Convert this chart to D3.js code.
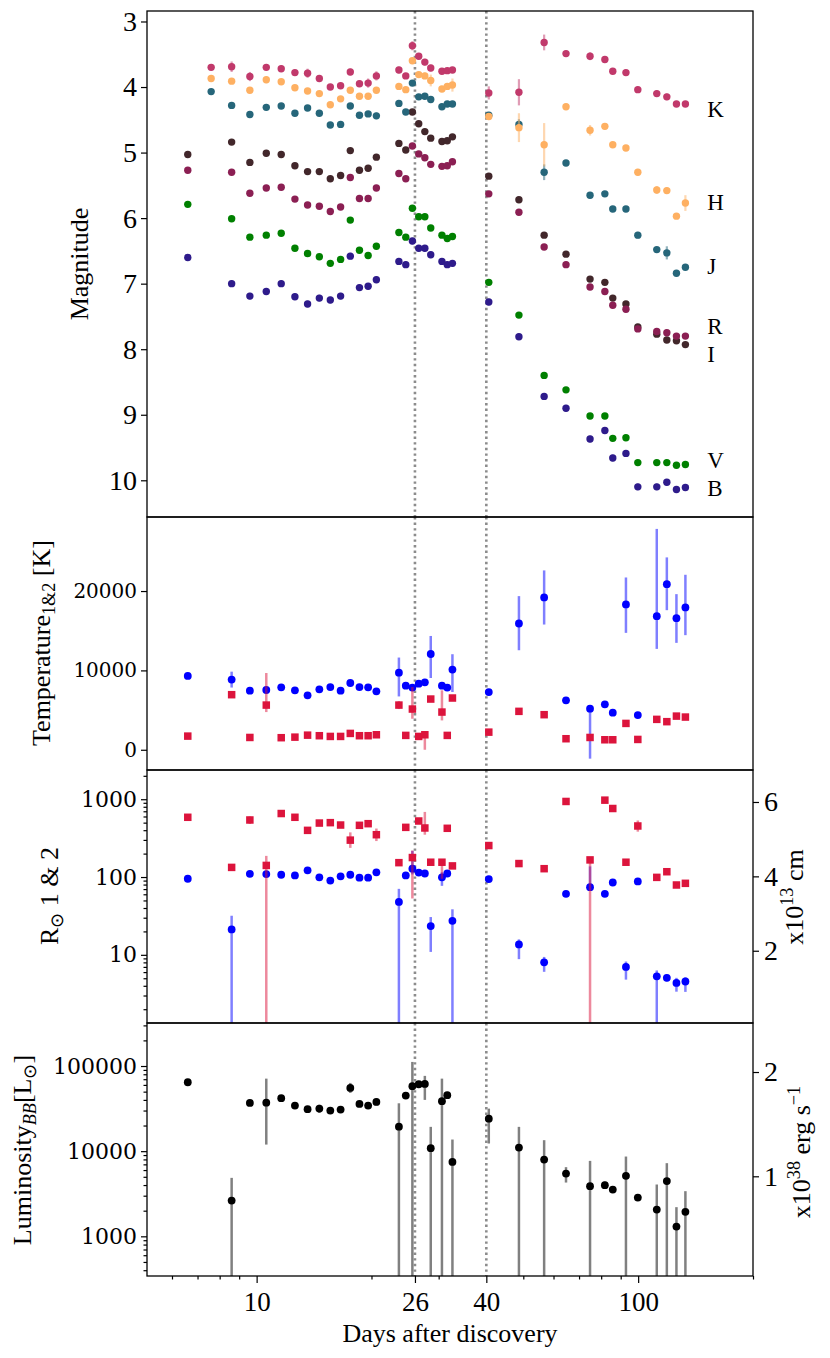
<!DOCTYPE html>
<html><head><meta charset="utf-8">
<script src="https://cdn.jsdelivr.net/npm/d3@7"></script>
<style>body{margin:0;background:#fff}</style>
</head><body>
<svg id="c" width="830" height="1358" xmlns="http://www.w3.org/2000/svg"></svg>
<script>
// ---------------- DATA ----------------
const days = [6.6, 7.6, 8.6, 9.6, 10.6, 11.6, 12.6, 13.6, 14.6, 15.6, 16.6, 17.6, 18.6, 19.6, 20.6, 23.6, 24.6, 25.6, 26.6, 27.6, 28.6, 30.6, 31.6, 32.6, 40.6, 48.7, 56.7, 64.7, 74.8, 81.8, 85.8, 92.9, 99.8, 111.9, 118.9, 126.0, 133.0];

const magK = [null, 3.70, 3.69, 3.84, 3.70, 3.72, 3.78, 3.79, 3.87, 4.00, 3.98, 3.77, 3.95, 3.94, 3.83, 3.74, 3.83, 3.37, 3.53, 3.62, 3.71, 3.76, 3.75, 3.74, 4.09, 4.08, 3.32, 3.49, 3.53, 3.58, 3.76, 3.78, 4.04, 4.10, 4.15, 4.26, 4.26];
const magH = [null, 3.87, 3.91, 4.05, 3.89, 3.92, 4.01, 4.06, 4.10, 4.27, 4.18, 4.05, 4.14, 4.14, 4.05, 3.99, 4.04, 3.60, 3.81, 3.83, 3.90, 4.03, 3.99, 3.97, 4.45, 4.62, 4.88, 4.30, 4.66, 4.60, 4.88, 4.93, 5.30, 5.57, 5.58, 5.97, 5.77];
const magJ = [null, 4.07, 4.28, 4.42, 4.31, 4.29, 4.40, 4.32, 4.40, 4.58, 4.57, 4.29, 4.43, 4.41, 4.44, 4.25, 4.38, 3.94, 4.15, 4.14, 4.19, 4.30, 4.26, 4.26, 4.43, 4.57, 5.30, 5.16, 5.65, 5.63, 5.86, 5.86, 6.26, 6.48, 6.53, 6.84, 6.75];
const magR = [5.27, null, 5.30, 5.62, 5.54, 5.53, 5.71, 5.80, 5.82, 5.90, 5.83, 5.38, 5.70, 5.70, 5.54, 5.32, 5.40, 4.90, 5.02, 5.08, 5.18, 5.21, 5.20, 5.14, 5.63, 5.91, 6.44, 6.71, 7.05, 7.12, 7.33, 7.39, 7.69, 7.73, 7.75, 7.80, 7.80];
const magI = [5.03, null, 4.84, 5.15, 5.01, 5.03, 5.20, 5.29, 5.29, 5.40, 5.35, 4.97, 5.27, 5.24, 5.07, 4.86, 4.96, 4.38, 4.56, 4.68, 4.78, 4.83, 4.82, 4.76, 5.36, 5.72, 6.26, 6.55, 6.93, 6.98, 7.22, 7.31, 7.66, 7.77, 7.86, 7.87, 7.93];
const magV = [5.79, null, 6.01, 6.29, 6.26, 6.23, 6.46, 6.54, 6.59, 6.69, 6.63, 6.03, 6.49, 6.57, 6.43, 6.22, 6.29, 5.85, 5.98, 5.98, 6.15, 6.26, 6.31, 6.28, 6.98, 7.48, 8.40, 8.62, 9.02, 9.02, 9.36, 9.35, 9.73, 9.73, 9.73, 9.77, 9.76];
const magB = [6.60, null, 7.00, 7.19, 7.12, 7.00, 7.20, 7.31, 7.22, 7.25, 7.19, 6.58, 7.06, 7.04, 6.94, 6.66, 6.71, 6.35, 6.46, 6.46, 6.56, 6.66, 6.71, 6.69, 7.28, 7.81, 8.72, 8.90, 9.37, 9.24, 9.66, 9.59, 10.10, 10.10, 10.03, 10.14, 10.11];

const errK = [null, .04, .08, .07, .04, .05, .04, .07, .05, .04, .04, .05, .05, .07, .07, .05, .04, .07, .04, .05, .05, .04, .04, .04, .10, .20, .12, .04, .06, .04, .04, .04, .04, .05, .05, .04, .04];
const errH = [null, .03, .03, .03, .05, .04, .03, .03, .04, .03, .03, .03, .03, .03, .04, .04, .03, .03, .04, .05, .09, .04, .04, .10, .04, .22, .33, .04, .08, .05, .04, .04, .05, .06, .05, .04, .12];
const errJ = [null, .03, .03, .03, .03, .03, .03, .03, .03, .03, .03, .03, .03, .04, .05, .04, .03, .03, .03, .03, .04, .04, .04, .04, .05, .08, .12, .04, .04, .04, .04, .04, .05, .04, .10, .04, .04];
const errR = [.03, null, .03, .03, .03, .03, .03, .03, .03, .03, .03, .03, .03, .03, .03, .03, .03, .03, .03, .03, .03, .03, .03, .03, .03, .03, .03, .03, .03, .03, .03, .03, .03, .03, .03, .03, .03];
const errI = [.03, null, .03, .03, .03, .03, .03, .03, .03, .03, .03, .03, .03, .03, .03, .03, .03, .03, .03, .03, .03, .03, .03, .03, .03, .03, .03, .03, .03, .03, .03, .03, .03, .03, .03, .03, .03];
const errV = [.03, null, .03, .03, .03, .03, .03, .03, .03, .03, .03, .03, .03, .03, .03, .03, .03, .03, .03, .03, .03, .03, .03, .03, .03, .03, .03, .03, .03, .03, .03, .03, .03, .03, .03, .03, .03];
const errB = [.05, null, .05, .05, .05, .05, .05, .05, .05, .05, .05, .05, .05, .05, .05, .05, .05, .05, .05, .05, .05, .05, .05, .05, .05, .05, .05, .05, .05, .05, .05, .05, .05, .05, .05, .05, .05];

const bandNames = ['K', 'H', 'J', 'R', 'I', 'V', 'B'];
const bandLabelMag = [4.46, 5.88, 6.86, 7.77, 8.19, 9.82, 10.24];
const bandLabelDay = 151.7;

// Temperatures [K]
const temp1 = [9300, null, 8840, 7450, 7530, 7870, 7490, 6860, 7610, 7900, 7450, 8410, 7900, 7870, 7360, 9720, 8080, 7830, 8330, 8500, 12070, 8080, 7830, 10100, 7270, 15910, 19190, 6230, 5180, 5720, 4670, 18310, 4370, 16830, 20870, 16580, 17930];
const temp1Err = [[300,300], null, [1000,1000], [250,250], [250,250], [250,250], [250,250], [250,250], [250,250], [250,250], [250,250], [250,250], [250,250], [250,250], [250,250], [3000,1900], [300,300], [400,400], [250,250], [250,250], [3030,2270], [300,300], [250,250], [2820,1940], [300,300], [3370,3450], [3410,3410], [300,300], [6300,300], [300,300], [300,300], [3580,3400], [300,300], [4120,11000], [3280,3370], [3110,3030], [3490,4120]];
const temp2 = [1720, null, 6940, 1550, 5630, 1520, 1590, 1840, 1770, 1680, 1680, 2060, 1770, 1770, 1890, 5630, 1810, 5130, 1680, 1890, 6390, 4750, 1810, 6520, 2220, 4840, 4420, 1390, 1550, 1260, 1260, 3320, 1300, 3830, 3540, 4240, 4120];
const temp2Err = [[200,200], null, [300,300], [200,200], [880,4040], [200,200], [200,200], [200,200], [200,200], [200,200], [200,200], [200,200], [200,200], [200,200], [200,200], [500,500], [200,200], [1220,2780], [200,200], [1890,200], [200,200], [1050,2740], [200,200], [200,200], [300,300], [200,200], [200,200], [200,200], [200,200], [200,200], [200,200], [200,200], [200,200], [200,200], [200,200], [200,200], [200,200]];

// Radii [R_sun]
const rad1 = [586, null, 133, 541, 141, 655, 586, 398, 494, 500, 466, 298, 462, 485, 350, 153, 435, 178, 525, 427, 155, 155, 423, 139, 254, 149, 128, 936, 166, 973, 760, 155, 453, 99, 117, 79, 83];
const rad1Err = [[30,30], null, [10,10], [60,60], [140,46], [30,30], [30,30], [20,20], [25,25], [25,25], [25,25], [61,77], [30,30], [25,25], [60,70], [10,10], [30,30], [125,41], [30,30], [77,260], [10,10], [60,10], [40,40], [10,10], [25,25], [8,8], [8,8], [30,30], [165,10], [30,30], [30,30], [8,8], [70,80], [6,6], [6,6], [5,5], [5,5]];
const rad2 = [95, null, 21.2, 110, 109, 107, 105, 122, 99, 90, 102, 107, 98, 98, 115, 47.9, 105, 128, 114, 111, 23.4, 99, 111, 27.4, 94, 13.6, 8.0, 60.8, 74, 60.8, 85, 7.0, 87.7, 5.3, 5.07, 4.36, 4.54];
const rad2Err = [[5,5], null, [21,10.6], [5,5], [5,5], [5,5], [5,5], [5,5], [5,5], [5,5], [5,5], [5,5], [5,5], [5,5], [5,5], [47,22.6], [5,5], [20,89], [5,5], [5,5], [12.5,7.2], [22,16], [5,5], [27,11.1], [4,4], [4.8,2.2], [1.95,1.4], [3,3], [5,63], [3,3], [4,4], [2.2,1.2], [4,4], [5.3,1.0], [0.5,0.5], [1.0,0.7], [1.2,0.6]];

// Luminosity [L_sun]
const lum = [64500, null, 2630, 36900, 37100, 41900, 34300, 31100, 31600, 30000, 30800, 55300, 35900, 34300, 37900, 19400, 45000, 57900, 61100, 61600, 10840, 38600, 45400, 7480, 24100, 11030, 7960, 5450, 3880, 3990, 3540, 5130, 2850, 2060, 4450, 1300, 1940];
const lumErr = [[5000,5000], null, [2630,2230], [3000,3000], [25150,34000], [3000,3000], [2500,2500], [2500,2500], [3500,3500], [2500,2500], [2500,2500], [7000,8000], [3000,3000], [2500,2500], [3500,3500], [19400,17100], [4000,4000], [57900,53800], [3000,3000], [21600,15000], [10840,8460], [38600,32500], [4000,4000], [7480,6220], [11800,7500], [11030,8270], [7960,5500], [1170,1040], [3880,3810], [400,400], [300,300], [5130,3520], [250,250], [2060,2000], [4450,2780], [1300,900], [1940,1450]];

const xMajor = [10, 26, 40, 100];
const xMinor = [6, 7, 8, 9, 20, 30, 50, 60, 70, 80, 90, 200];
const markLines = [26, 40];
const magTicks = [3, 4, 5, 6, 7, 8, 9, 10];
const tempTicks = [0, 10000, 20000];
const radTicks = [10, 100, 1000];
const radRightTicks = [2, 4, 6];
const lumTicks = [1000, 10000, 100000];
const lumRightTicks = [1, 2];

// ---------------- LAYOUT ----------------
const L = 147, R = 753;
const P = [{t: 11, b: 517}, {t: 517, b: 770}, {t: 770, b: 1023}, {t: 1023, b: 1276}];
const SERIF = "'Liberation Serif','Times New Roman',serif";
const DJS = "'DejaVu Serif',serif";

const svg = d3.select('#c');
const x = d3.scaleLog().domain([5.16, 200]).range([L, R]);
const y1 = d3.scaleLinear().domain([2.84, 10.56]).range([P[0].t, P[0].b]);
const y2 = d3.scaleLinear().domain([-2550, 29330]).range([P[1].b, P[1].t]);
const y3 = d3.scaleLog().domain([1.33, 2375]).range([P[2].b, P[2].t]);
const y3r = d3.scaleLinear().domain([0.057, 6.86]).range([P[2].b, P[2].t]);
const y4 = d3.scaleLog().domain([342, 320000]).range([P[3].b, P[3].t]);
const y4r = d3.scaleLinear().domain([0.044, 2.47]).range([P[3].b, P[3].t]);

const defs = svg.append('defs');
P.forEach((p, i) => {
  defs.append('clipPath').attr('id', 'clip' + i).append('rect')
    .attr('x', L).attr('y', p.t).attr('width', R - L).attr('height', p.b - p.t);
});

// dotted reference lines
P.forEach((p, i) => {
  svg.append('g').attr('clip-path', `url(#clip${i})`).selectAll('line').data(markLines).join('line')
    .attr('x1', d => x(d)).attr('x2', d => x(d)).attr('y1', p.t).attr('y2', p.b)
    .attr('stroke', '#8c8c8c').attr('stroke-width', 2.6).attr('stroke-dasharray', '2.4,3.2');
});

function rows(vals, errs) {
  return days.map((d, i) => ({d, v: vals[i], e: errs[i]})).filter(o => o.v != null);
}
function yEnd(scale, v, isLog, bottom) {
  if (isLog && v <= scale.domain()[0]) return bottom + 5;
  return scale(v);
}

// ---------- Panel 1: magnitudes ----------
const bands = [
  {vals: magB, err: errB, color: '#2e1b8b'},
  {vals: magV, err: errV, color: '#008000'},
  {vals: magI, err: errI, color: '#42272b'},
  {vals: magR, err: errR, color: '#8b1f53'},
  {vals: magJ, err: errJ, color: '#26667a'},
  {vals: magH, err: errH, color: '#feb062'},
  {vals: magK, err: errK, color: '#c1396b'}
];
const g1 = svg.append('g').attr('clip-path', 'url(#clip0)');
bands.forEach(b => {
  const data = rows(b.vals, b.err);
  const g = g1.append('g');
  g.selectAll('line').data(data).join('line')
    .attr('x1', o => x(o.d)).attr('x2', o => x(o.d))
    .attr('y1', o => y1(o.v - o.e)).attr('y2', o => y1(o.v + o.e))
    .attr('stroke', b.color).attr('stroke-opacity', 0.5).attr('stroke-width', 2.2);
  g.selectAll('circle').data(data).join('circle')
    .attr('cx', o => x(o.d)).attr('cy', o => y1(o.v)).attr('r', 3.7).attr('fill', b.color);
});
svg.append('g').selectAll('text').data(bandNames).join('text')
  .attr('x', x(bandLabelDay)).attr('y', (d, i) => y1(bandLabelMag[i]))
  .attr('font-family', SERIF).attr('font-size', 23).attr('fill', '#000').text(d => d);

// ---------- generic two-series panel ----------
function errSeries(g, data, scale, isLog, bottom, color, op, w) {
  g.append('g').selectAll('line').data(data).join('line')
    .attr('x1', o => x(o.d)).attr('x2', o => x(o.d))
    .attr('y1', o => yEnd(scale, o.v - o.e[0], isLog, bottom))
    .attr('y2', o => scale(o.v + o.e[1]))
    .attr('stroke', color).attr('stroke-opacity', op).attr('stroke-width', w);
}
function circles(g, data, scale, color, r) {
  g.append('g').selectAll('circle').data(data).join('circle')
    .attr('cx', o => x(o.d)).attr('cy', o => scale(o.v)).attr('r', r).attr('fill', color);
}
function squares(g, data, scale, color, s) {
  g.append('g').selectAll('rect').data(data).join('rect')
    .attr('x', o => x(o.d) - s / 2).attr('y', o => scale(o.v) - s / 2)
    .attr('width', s).attr('height', s).attr('fill', color);
}

// Panel 2
const g2 = svg.append('g').attr('clip-path', 'url(#clip1)');
const t1 = rows(temp1, temp1Err), t2 = rows(temp2, temp2Err);
errSeries(g2, t1, y2, false, P[1].b, '#0000ff', 0.5, 2.5);
circles(g2, t1, y2, '#0000ff', 3.9);
errSeries(g2, t2, y2, false, P[1].b, '#dc143c', 0.5, 2.5);
squares(g2, t2, y2, '#dc143c', 7.5);

// Panel 3
const g3 = svg.append('g').attr('clip-path', 'url(#clip2)');
const r1 = rows(rad1, rad1Err), r2 = rows(rad2, rad2Err);
errSeries(g3, r2, y3, true, P[2].b, '#0000ff', 0.5, 2.5);
circles(g3, r2, y3, '#0000ff', 3.9);
errSeries(g3, r1, y3, true, P[2].b, '#dc143c', 0.5, 2.5);
squares(g3, r1, y3, '#dc143c', 7.5);

// Panel 4
const g4 = svg.append('g').attr('clip-path', 'url(#clip3)');
const lr = rows(lum, lumErr);
errSeries(g4, lr, y4, true, P[3].b, '#808080', 1, 2.5);
circles(g4, lr, y4, '#000000', 3.9);

// ---------------- AXES ----------------
function styleAxis(g, font, size) {
  g.select('.domain').remove();
  g.attr('font-family', font).attr('font-size', size);
  g.selectAll('text').attr('fill', '#000');
  g.selectAll('line').attr('stroke', '#000').attr('stroke-width', 1.2);
}
function minorLog(scale) {
  const [a, b] = scale.domain(); const out = [];
  for (let e = Math.floor(Math.log10(a)); e <= Math.ceil(Math.log10(b)); e++)
    for (let k = 2; k <= 9; k++) { const v = k * Math.pow(10, e); if (v >= a && v <= b) out.push(v); }
  return out;
}
function leftAxis(scale, ticks, font, size, minor) {
  const g = svg.append('g').attr('transform', `translate(${L},0)`)
    .call(d3.axisLeft(scale).tickValues(ticks).tickSize(6).tickPadding(4).tickFormat(d3.format('d')));
  styleAxis(g, font, size);
  if (minor) {
    const m = svg.append('g').attr('transform', `translate(${L},0)`)
      .call(d3.axisLeft(scale).tickValues(minor).tickSize(3.5).tickFormat(''));
    styleAxis(m, font, size);
  }
}
function rightAxis(scale, ticks) {
  const g = svg.append('g').attr('transform', `translate(${R},0)`)
    .call(d3.axisRight(scale).tickValues(ticks).tickSize(6).tickPadding(5).tickFormat(d3.format('d')));
  styleAxis(g, SERIF, 28);
}
leftAxis(y1, magTicks, SERIF, 28, null);
leftAxis(y2, tempTicks, DJS, 20, null);
leftAxis(y3, radTicks, DJS, 22, minorLog(y3));
leftAxis(y4, lumTicks, DJS, 22, minorLog(y4));
rightAxis(y3r, radRightTicks);
rightAxis(y4r, lumRightTicks);

const gx = svg.append('g').attr('transform', `translate(0,${P[3].b})`)
  .call(d3.axisBottom(x).tickValues(xMajor).tickSize(7).tickPadding(9).tickFormat(d3.format('d')));
styleAxis(gx, SERIF, 27);
const gxm = svg.append('g').attr('transform', `translate(0,${P[3].b})`)
  .call(d3.axisBottom(x).tickValues(xMinor).tickSize(3.5).tickFormat(''));
styleAxis(gxm, SERIF, 27);

// frames
P.forEach(p => {
  svg.append('rect').attr('x', L).attr('y', p.t).attr('width', R - L).attr('height', p.b - p.t)
    .attr('fill', 'none').attr('stroke', '#000').attr('stroke-width', 1.3);
});

// ---------------- LABELS ----------------
function vlabel(cx, cy, parts, size) {
  const t = svg.append('text').attr('transform', `translate(${cx},${cy}) rotate(-90)`)
    .attr('text-anchor', 'middle').attr('font-family', SERIF).attr('font-size', size).attr('fill', '#000');
  parts.forEach(p => {
    const s = t.append('tspan').text(p.t);
    if (p.sub) s.attr('font-size', size * 0.7).attr('dy', p.sub === 'down' ? '0.3em' : '-0.55em');
    if (p.back) s.attr('dy', p.back);
    if (p.it) s.attr('font-style', 'italic');
  });
  return t;
}
vlabel(88, 264, [{t: 'Magnitude'}], 26);
vlabel(50, 643, [{t: 'Temperature'}, {t: '1&2', sub: 'down'}, {t: ' [K]', back: '-0.21em'}], 26);
vlabel(58, 896, [{t: 'R'}, {t: '⊙', sub: 'down'}, {t: ' 1 & 2', back: '-0.21em'}], 26);
vlabel(31, 1150, [{t: 'Luminosity'}, {t: 'BB', sub: 'down', it: true}, {t: '[L', back: '-0.21em'}, {t: '⊙', sub: 'down'}, {t: ']', back: '-0.21em'}], 26);
vlabel(803, 897, [{t: 'x10'}, {t: '13', sub: 'up'}, {t: ' cm', back: '0.385em'}], 26);
vlabel(810, 1152, [{t: 'x10'}, {t: '38', sub: 'up'}, {t: ' erg s', back: '0.385em'}, {t: '−1', sub: 'up'}], 26);

svg.append('text').attr('x', (L + R) / 2).attr('y', 1342).attr('text-anchor', 'middle')
  .attr('font-family', SERIF).attr('font-size', 26).attr('fill', '#000').text('Days after discovery');
</script>
</body></html>
